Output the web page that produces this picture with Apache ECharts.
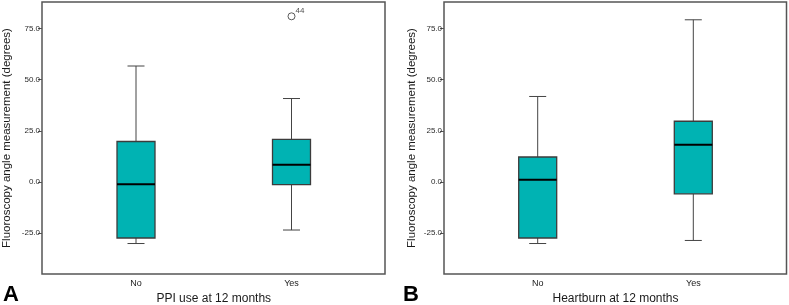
<!DOCTYPE html>
<html>
<head>
<meta charset="utf-8">
<script src="https://cdn.jsdelivr.net/npm/echarts@6/dist/echarts.min.js"></script>
<style>
  html, body { margin: 0; padding: 0; background: #fff; }
  #chart { width: 789px; height: 305px; }
</style>
</head>
<body>
<div id="chart"></div>
<script>
// five-number summaries: [min whisker, Q1, median, Q3, max whisker]
const categories = ['No', 'Yes']
const ppiNo = [-30.1, -27.4, -1.1, 19.8, 56.7]
const ppiYes = [-23.5, -1.3, 8.4, 20.8, 40.8]
const ppiOutliers = [[1, 81]]
const ppiOutlierIds = ['44']
const hbNo = [-30.1, -27.4, 1.1, 12.2, 41.8]
const hbYes = [-28.6, -5.8, 18.2, 29.7, 79.3]
const yTicks = [-25, 0, 25, 50, 75]

const yName = 'Fluoroscopy angle measurement (degrees)'
const font = '"Liberation Sans", Arial, sans-serif'
const fill = '#00b3b3'
const Y_MIN = -45
const Y_MAX = 88

function renderBox(params, api) {
  const x = api.value(0)
  const lo = api.coord([x, api.value(1)])
  const q1 = api.coord([x, api.value(2)])
  const med = api.coord([x, api.value(3)])
  const q3 = api.coord([x, api.value(4)])
  const hi = api.coord([x, api.value(5)])
  const cx = lo[0]
  const hw = 19
  const cap = 8.5
  const wl = { stroke: '#444', lineWidth: 1 }
  return {
    type: 'group',
    children: [
      { type: 'line', shape: { x1: cx, y1: lo[1], x2: cx, y2: q1[1] }, style: wl },
      { type: 'line', shape: { x1: cx, y1: q3[1], x2: cx, y2: hi[1] }, style: wl },
      { type: 'line', shape: { x1: cx - cap, y1: lo[1], x2: cx + cap, y2: lo[1] }, style: wl },
      { type: 'line', shape: { x1: cx - cap, y1: hi[1], x2: cx + cap, y2: hi[1] }, style: wl },
      {
        type: 'rect',
        shape: { x: cx - hw, y: q3[1], width: hw * 2, height: q1[1] - q3[1] },
        style: { fill: fill, stroke: '#3c3c3c', lineWidth: 1.3 }
      },
      { type: 'line', shape: { x1: cx - hw, y1: med[1], x2: cx + hw, y2: med[1] }, style: { stroke: '#000', lineWidth: 2 } }
    ]
  }
}

function frameGrid(left, width) {
  return {
    left: left, top: 2, width: width, height: 272, outerBoundsMode: 'none',
    show: true, borderColor: '#555', borderWidth: 1.5, backgroundColor: '#fff'
  }
}

function dataGrid(left, width) {
  return { left: left, top: 2, width: width, height: 272, outerBoundsMode: 'none' }
}

function frameYAxis(gridIndex, nameGap) {
  return {
    type: 'value', gridIndex: gridIndex, min: Y_MIN, max: Y_MAX,
    name: yName, nameLocation: 'middle', nameGap: nameGap,
    nameTextStyle: { fontSize: 11.5, color: '#1a1a1a', fontFamily: font },
    axisLine: { show: false },
    axisTick: { show: true, length: 4, customValues: yTicks, lineStyle: { color: '#555' } },
    axisLabel: {
      customValues: yTicks, margin: 2, fontSize: 8, color: '#2a2a2a', fontFamily: font,
      formatter: (v) => v.toFixed(1)
    },
    splitLine: { show: false }
  }
}

function dataXAxis(gridIndex, name) {
  return {
    type: 'category', gridIndex: gridIndex, data: categories, boundaryGap: false,
    name: name, nameLocation: 'middle', nameGap: 16,
    nameTextStyle: { fontSize: 12, color: '#1a1a1a', fontFamily: font },
    axisLine: { show: false }, axisTick: { show: false },
    axisLabel: { margin: 5, fontSize: 9, color: '#222', fontFamily: font }
  }
}

const chart = echarts.init(document.getElementById('chart'), null, { renderer: 'canvas' })

chart.setOption({
  animation: false,
  backgroundColor: '#fff',
  grid: [
    frameGrid(42, 343),
    dataGrid(136, 155.5),
    frameGrid(444, 342.5),
    dataGrid(537.7, 155.6)
  ],
  xAxis: [
    { type: 'value', gridIndex: 0, show: false },
    dataXAxis(1, 'PPI use at 12 months'),
    { type: 'value', gridIndex: 2, show: false },
    dataXAxis(3, 'Heartburn at 12 months')
  ],
  yAxis: [
    frameYAxis(0, 29),
    { type: 'value', gridIndex: 1, min: Y_MIN, max: Y_MAX, show: false },
    frameYAxis(2, 26),
    { type: 'value', gridIndex: 3, min: Y_MIN, max: Y_MAX, show: false }
  ],
  series: [
    {
      type: 'custom', xAxisIndex: 1, yAxisIndex: 1, renderItem: renderBox,
      data: [[0, ...ppiNo], [1, ...ppiYes]]
    },
    {
      type: 'scatter', xAxisIndex: 1, yAxisIndex: 1, data: ppiOutliers,
      symbol: 'circle', symbolSize: 7,
      itemStyle: { color: '#fff', borderColor: '#333', borderWidth: 1 },
      label: {
        show: true, position: [8, -6], align: 'left', verticalAlign: 'top',
        fontSize: 8, color: '#222', fontFamily: font,
        formatter: (p) => ppiOutlierIds[p.dataIndex]
      }
    },
    {
      type: 'custom', xAxisIndex: 3, yAxisIndex: 3, renderItem: renderBox,
      data: [[0, ...hbNo], [1, ...hbYes]]
    }
  ],
  graphic: [
    { type: 'text', left: 3, top: 284, style: { text: 'A', font: 'bold 22px "Liberation Sans", Arial, sans-serif', fill: '#000' } },
    { type: 'text', left: 403, top: 284, style: { text: 'B', font: 'bold 22px "Liberation Sans", Arial, sans-serif', fill: '#000' } }
  ]
})
</script>
</body>
</html>
